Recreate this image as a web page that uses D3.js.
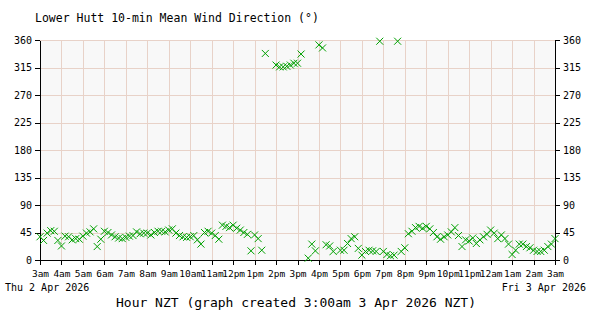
<!DOCTYPE html>
<html>
<head>
<meta charset="utf-8">
<script src="https://cdn.jsdelivr.net/npm/d3@7"></script>
<style>
  body { margin: 0; background: #fff; }
  text { font-family: "DejaVu Sans Mono", monospace; fill: #000; }
</style>
</head>
<body>
<div id="chart"></div>
<script>
// 10-min mean wind direction (deg), 3:00am Thu 2 Apr -> 3:00am Fri 3 Apr, null = no reading
const directions = [
  38, 32, 44, 48, 47, 32, 23, 39, 38, 33, 35, 34,
  39, 44, 46, 51, 22, 34, 47, 45, 41, 38, 36, 35,
  37, 39, 40, 46, 43, 44, 44, 41, 45, 47, 47, 46,
  49, 51, 44, 40, 38, 37, 38, 40, 33, 26, 45, 47,
  44, 40, 34, 57, 55, 53, 57, 52, 49, 45, 42, 15,
  41, 35, 16, 338, null, null, 319, 316, 316, 317, 319, 322,
  322, 337, null, 3, 26, 15, 352, 347, 25, 23, 14, null,
  16, 16, 27, 35, 38, 19, 8, 14, 16, 15, 14, 358,
  14, 9, 7, 8, 358, 14, 20, 43, 47, 53, 55, 52,
  55, 51, 45, 38, 34, 38, 41, 46, 53, 40, 22, 33,
  31, 36, 27, 33, 38, 42, 49, 44, 35, 41, 35, 26,
  9, 16, 26, 26, 22, 20, 16, 14, 14, 16, 22, 26,
  35
];
const hourLabels = ["3am","4am","5am","6am","7am","8am","9am","10am","11am","12pm","1pm","2pm",
  "3pm","4pm","5pm","6pm","7pm","8pm","9pm","10pm","11pm","12am","1am","2am","3am"];
const yTicks = [0, 45, 90, 135, 180, 225, 270, 315, 360];

const width = 600, height = 320;
const margin = { top: 40, right: 45, bottom: 60, left: 40 };

const svg = d3.select("#chart").append("svg")
  .attr("width", width).attr("height", height);

const x = d3.scaleLinear().domain([0, 24]).range([margin.left, width - margin.right]);
const y = d3.scaleLinear().domain([0, 360]).range([height - margin.bottom, margin.top]);

// plot background
svg.append("rect")
  .attr("x", x(0)).attr("y", y(360))
  .attr("width", x(24) - x(0)).attr("height", y(0) - y(360))
  .attr("fill", "#f8f8f8");

// grid
const grid = svg.append("g").attr("stroke", "#e8d2c8").attr("stroke-width", 1).attr("shape-rendering", "crispEdges");
grid.selectAll("line.v").data(d3.range(1, 24)).join("line")
  .attr("x1", d => Math.round(x(d)) + 0.5).attr("x2", d => Math.round(x(d)) + 0.5)
  .attr("y1", y(360)).attr("y2", y(0));
grid.selectAll("line.h").data(yTicks.slice(1)).join("line")
  .attr("y1", d => Math.round(y(d)) + 0.5).attr("y2", d => Math.round(y(d)) + 0.5)
  .attr("x1", x(0)).attr("x2", x(24));

// axes
const hourAxis = d3.axisBottom(x).tickValues(d3.range(0, 25))
  .tickFormat(d => hourLabels[d]).tickSize(5).tickSizeOuter(0);
const gx = svg.append("g").attr("transform", `translate(0,${y(0)})`).call(hourAxis);
gx.selectAll("text").attr("font-size", "9.5px").attr("dy", "0.95em")
  .style("font-family", "'DejaVu Sans Mono', monospace");

const gl = svg.append("g").attr("transform", `translate(${x(0)},0)`)
  .call(d3.axisLeft(y).tickValues(yTicks).tickSize(5).tickSizeOuter(0));
const gr = svg.append("g").attr("transform", `translate(${x(24)},0)`)
  .call(d3.axisRight(y).tickValues(yTicks).tickSize(5).tickSizeOuter(0));
[gl, gr].forEach(g => g.selectAll("text").attr("font-size", "10px")
  .style("font-family", "'DejaVu Sans Mono', monospace"));
[gx, gl, gr].forEach(g => {
  g.select(".domain").attr("stroke", "#000");
  g.selectAll(".tick line").attr("stroke", "#000");
  g.attr("shape-rendering", "crispEdges");
});

// markers (x crosses)
const pts = directions.map((v, i) => ({ t: i / 6, v })).filter(d => d.v !== null);
const r = 3.5;
svg.append("g").selectAll("path").data(pts).join("path")
  .attr("d", d => {
    const cx = x(d.t), cy = y(d.v);
    return `M${cx - r},${cy - r}L${cx + r},${cy + r}M${cx - r},${cy + r}L${cx + r},${cy - r}`;
  })
  .attr("stroke", "#00a000").attr("stroke-width", 1).attr("fill", "none");

// texts
svg.append("text").attr("x", 35).attr("y", 22).attr("font-size", "11.5px")
  .text("Lower Hutt 10-min Mean Wind Direction (°)");
svg.append("text").attr("x", 5).attr("y", 291).attr("font-size", "10px")
  .text("Thu 2 Apr 2026");
svg.append("text").attr("x", 586).attr("y", 291).attr("font-size", "10px")
  .attr("text-anchor", "end").text("Fri 3 Apr 2026");
svg.append("text").attr("x", 296).attr("y", 307).attr("font-size", "13px")
  .attr("text-anchor", "middle").text("Hour NZT (graph created 3:00am 3 Apr 2026 NZT)");
</script>
</body>
</html>
